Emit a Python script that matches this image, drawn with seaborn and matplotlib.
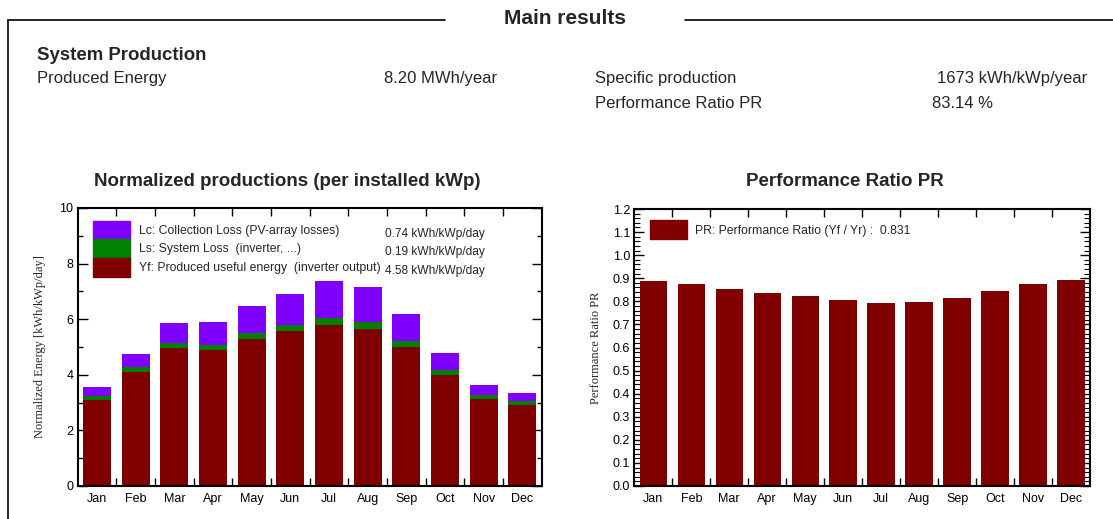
import numpy as np
import matplotlib
matplotlib.use("Agg")
import matplotlib.pyplot as plt
import seaborn as sns
from matplotlib.lines import Line2D
from matplotlib.patches import Patch
from matplotlib.ticker import MultipleLocator

sns.set_style("white")
plt.rcParams['font.family'] = ['Liberation Sans', 'DejaVu Sans']

# %% data
months = ["Jan", "Feb", "Mar", "Apr", "May", "Jun", "Jul", "Aug", "Sep", "Oct", "Nov", "Dec"]
yf = [3.11, 4.11, 4.96, 4.89, 5.29, 5.56, 5.80, 5.65, 5.01, 4.01, 3.13, 2.93]
ls = [0.14, 0.16, 0.19, 0.19, 0.21, 0.22, 0.24, 0.24, 0.21, 0.17, 0.15, 0.14]
lc = [0.32, 0.47, 0.71, 0.83, 0.97, 1.12, 1.32, 1.27, 0.97, 0.62, 0.34, 0.29]
pr = [0.887, 0.874, 0.852, 0.836, 0.823, 0.806, 0.793, 0.796, 0.816, 0.845, 0.875, 0.894]

legend_labels = ["Lc: Collection Loss (PV-array losses)",
                 "Ls: System Loss  (inverter, ...)",
                 "Yf: Produced useful energy  (inverter output)"]
legend_values = ["0.74 kWh/kWp/day", "0.19 kWh/kWp/day", "4.58 kWh/kWp/day"]
pr_label = "PR: Performance Ratio (Yf / Yr) :  0.831"

c_lc = "#8000ff"
c_ls = "#008000"
c_yf = "#800000"

# %% figure
W, H = 1113, 519
fig = plt.figure(figsize=(W / 100, H / 100), dpi=100)

def ftext(x, y, s, **kw):
    fig.text(x / W, 1 - y / H, s, va="center", **kw)

# frame of the "Main results" block
fig.add_artist(Line2D([8 / W, 445 / W], [1 - 20 / H, 1 - 20 / H], color="black", lw=1.2))
fig.add_artist(Line2D([685 / W, 1.0], [1 - 20 / H, 1 - 20 / H], color="black", lw=1.2))
fig.add_artist(Line2D([8 / W, 8 / W], [1 - 20 / H, 0], color="black", lw=1.2))

ftext(565, 19, "Main results", ha="center", fontsize=15, fontweight="bold")
ftext(37, 55, "System Production", fontsize=13.4, fontweight="bold")
ftext(37, 78, "Produced Energy", fontsize=12)
ftext(384, 78, "8.20 MWh/year", fontsize=12)
ftext(595, 78, "Specific production", fontsize=12)
ftext(937, 78, "1673 kWh/kWp/year", fontsize=12)
ftext(595, 103, "Performance Ratio PR", fontsize=12)
ftext(932, 103, "83.14 %", fontsize=12)

ftext(287, 181, "Normalized productions (per installed kWp)", ha="center", fontsize=13.5, fontweight="bold")
ftext(845, 181, "Performance Ratio PR", ha="center", fontsize=13.5, fontweight="bold")

# %% left: normalized productions (stacked)
ax1 = fig.add_axes([77.7 / W, 33 / H, 464 / W, 278 / H])
total = np.array(yf) + np.array(ls) + np.array(lc)
mid = np.array(yf) + np.array(ls)
for vals, col in [(total, c_lc), (mid, c_ls), (yf, c_yf)]:
    sns.barplot(x=months, y=vals, color=col, saturation=1, width=0.72, linewidth=0, ax=ax1)

ax1.set_xlim(-0.5, 11.5)
ax1.set_ylim(0, 10)
ax1.set_yticks(range(0, 11, 2))
ax1.yaxis.set_minor_locator(MultipleLocator(1))
ax1.set_xticks(np.arange(0.5, 11, 1), minor=True)
ax1.set_ylabel("Normalized Energy [kWh/kWp/day]", family="Liberation Serif", fontsize=9, labelpad=10)
ax1.set_xlabel("")

handles = [Patch(color=c_lc), Patch(color=c_ls), Patch(color=c_yf)]
ax1.legend(handles, legend_labels, loc="upper left", bbox_to_anchor=(0.033, 0.955),
           frameon=False, fontsize=8.8, handlelength=3.05, handleheight=1.98, labelspacing=0,
           handletextpad=0.75, borderpad=0, borderaxespad=0)
for i, v in enumerate(legend_values):
    ax1.text(0.662, [0.908, 0.840, 0.774][i], v, transform=ax1.transAxes, fontsize=8.6, va="center")

# %% right: performance ratio
ax2 = fig.add_axes([634.3 / W, 33 / H, 455.7 / W, 277 / H])
sns.barplot(x=months, y=pr, color=c_yf, saturation=1, width=0.72, linewidth=0, ax=ax2)
ax2.set_xlim(-0.5, 11.5)
ax2.set_ylim(0, 1.2)
ax2.set_yticks(np.round(np.arange(0, 1.21, 0.1), 1))
ax2.set_yticklabels([f"{t:.1f}" for t in np.arange(0, 1.21, 0.1)])
ax2.yaxis.set_minor_locator(MultipleLocator(0.02))
ax2.set_xticks(np.arange(0.5, 11, 1), minor=True)
ax2.set_ylabel("Performance Ratio PR", family="Liberation Serif", fontsize=9, labelpad=8)
ax2.set_xlabel("")
ax2.legend([Patch(color=c_yf)], [pr_label], loc="upper left", bbox_to_anchor=(0.0345, 0.96),
           frameon=False, fontsize=8.8, handlelength=3.05, handleheight=2.05,
           handletextpad=0.6, borderpad=0, borderaxespad=0)

for ax in (ax1, ax2):
    for sp in ax.spines.values():
        sp.set_visible(True)
        sp.set_color("black")
        sp.set_linewidth(1.5)
    ax.tick_params(which="both", direction="in", top=True, right=True, left=True, bottom=True,
                   colors="black", labelsize=9, width=1)
    ax.tick_params(axis="x", which="major", length=0, pad=5)
    ax.tick_params(axis="x", which="minor", length=6)
    ax.tick_params(axis="y", which="major", length=7, pad=3)
    ax.tick_params(axis="y", which="minor", length=3.5)
ax2.tick_params(axis="y", which="minor", length=4.5, width=0.8)

fig.savefig("out.png", dpi=100)
